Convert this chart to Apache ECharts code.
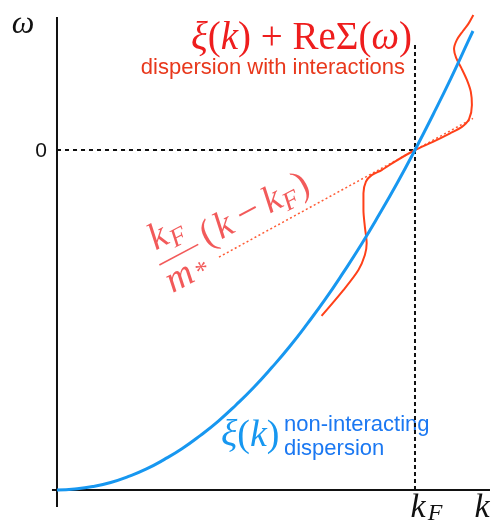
<!DOCTYPE html>
<html><head><meta charset="utf-8">
<script src="https://cdn.jsdelivr.net/npm/echarts@6/dist/echarts.min.js"></script>
<style>html,body{margin:0;padding:0;background:#fff}#c{width:494px;height:523px}</style>
</head><body><div id="c"></div>
<script>
// Non-interacting dispersion xi(k) (k in units of kF, omega in units of eF)
const blueK = [0, 0.05, 0.1, 0.15, 0.2, 0.25, 0.3, 0.35, 0.4, 0.45, 0.5, 0.55, 0.6, 0.65, 0.7, 0.75, 0.8, 0.85, 0.9, 0.95, 1.0, 1.05, 1.1, 1.15, 1.162];
const blueW = [-1, -0.997, -0.99, -0.978, -0.96, -0.938, -0.91, -0.878, -0.84, -0.798, -0.75, -0.698, -0.64, -0.578, -0.51, -0.438, -0.36, -0.278, -0.19, -0.098, 0, 0.103, 0.21, 0.323, 0.35];
// Interacting dispersion xi(k)+ReSigma(omega)
const redK = [0.739, 0.800, 0.842, 0.860, 0.865, 0.860, 0.856, 0.856, 0.863, 0.879, 0.907, 0.944, 1.000, 1.050, 1.098, 1.131, 1.151, 1.159, 1.156, 1.145, 1.130, 1.115, 1.109, 1.117, 1.134, 1.149, 1.163];
const redW = [-0.488, -0.412, -0.353, -0.309, -0.274, -0.226, -0.176, -0.127, -0.093, -0.074, -0.059, -0.034, 0, 0.024, 0.049, 0.068, 0.091, 0.132, 0.171, 0.206, 0.240, 0.271, 0.297, 0.324, 0.350, 0.371, 0.397];
// kF/m* (k-kF) renormalized slope line
const slopeK = [0.4525, 1.162];
const slopeW = [-0.315, 0.093];
// reference lines
const zeroLineK = [0, 1];
const zeroLineW = [0, 0];
const kFLineK = [1, 1];
const kFLineW = [-1, 0.309];
// axes
const xAxisK = [-0.014, 1.2095];
const xAxisW = [-1, -1];
const yAxisK = [0, 0];
const yAxisW = [-1.05, 0.391];

const pairs = (a, b) => a.map((v, i) => [v, b[i]]);
const SERIF = '"Liberation Serif", "DejaVu Serif", serif';
const SANS = '"Liberation Sans", Arial, sans-serif';
const RED_T = '#ee1d1d', RED_S = '#e8381c', RED_C = '#ff4019', RED_F = '#f25a5a';
const BLUE_C = '#1797f0', BLUE_T = '#1b78f2';

const chart = echarts.init(document.getElementById('c'));
function lineSeries(data, color, width, type, smooth, z) {
  return { type: 'line', data, showSymbol: false, smooth, silent: true, z: z || 2, clip: false,
    lineStyle: { color, width, type, cap: 'butt' } };
}
function txt(x, y, text, font, fill, align, valign) {
  return { type: 'text', x, y, silent: true,
    style: { text, font, fill, textAlign: align || 'center', textVerticalAlign: valign || 'middle' } };
}
function rich(x, y, text, size, fill, align) {
  return { type: 'text', x, y, silent: true, style: { text, fill, textAlign: align, textVerticalAlign: 'middle',
    rich: { i: { fontFamily: SERIF, fontStyle: 'italic', fontSize: size, fill },
            n: { fontFamily: SERIF, fontSize: size, fill } } } };
}
const F = (s, st) => (st ? st + ' ' : '') + s + 'px ' + SERIF;

chart.setOption({
  animation: false,
  grid: { left: 0, right: 0, top: 0, bottom: 0 },
  xAxis: { type: 'value', min: -0.1592, max: 1.2207, show: false },
  yAxis: { type: 'value', min: -1.0971, max: 0.4412, show: false },
  series: [
    lineSeries(pairs(xAxisK, xAxisW), '#111', 2, 'solid', false),
    lineSeries(pairs(yAxisK, yAxisW), '#111', 2, 'solid', false),
    lineSeries(pairs(zeroLineK, zeroLineW), '#111', 2, [4, 4], false),
    lineSeries(pairs(kFLineK, kFLineW), '#111', 2, [4, 3], false),
    lineSeries(pairs(slopeK, slopeW), '#ff5a33', 1.5, [2, 2.5], false),
    lineSeries(pairs(redK, redW), RED_C, 2, 'solid', 0.3, 3),
    lineSeries(pairs(blueK, blueW), BLUE_C, 3, 'solid', true, 4)
  ],
  graphic: [
    txt(23, 25, '\u03c9', F(32, 'italic'), '#111'),
    txt(41, 151, '0', '21px ' + SANS, '#111'),
    rich(412, 39, '{i|\u03be}{n|(}{i|k}{n|) + Re\u03a3(}{i|\u03c9}{n|)}', 39, RED_T, 'right'),
    txt(405, 68, 'dispersion with interactions', '22px ' + SANS, RED_S, 'right'),
    rich(221, 436, '{i|\u03be}{n|(}{i|k}{n|)}', 38, BLUE_C, 'left'),
    txt(284, 425, 'non-interacting', '22px ' + SANS, BLUE_T, 'left'),
    txt(284, 449, 'dispersion', '22px ' + SANS, BLUE_T, 'left'),
    txt(418, 508, 'k', F(34, 'italic'), '#111'),
    txt(435, 514, 'F', F(24, 'italic'), '#111'),
    txt(482, 508, 'k', F(34, 'italic'), '#111'),
    { type: 'group', x: 178.8, y: 254.7, rotation: 28 * Math.PI / 180, silent: true, children: [
      { type: 'line', shape: { x1: -22, y1: 0, x2: 22, y2: 0 }, style: { stroke: RED_F, lineWidth: 1.6 } },
      txt(-10, -24.6, 'k', F(38, 'italic'), RED_F),
      txt(8, -14.8, 'F', F(26, 'italic'), RED_F),
      txt(-10, 21, 'm', F(38, 'italic'), RED_F),
      txt(14, 26.5, '*', F(26), RED_F),
      txt(35, -3.5, '(', F(38), RED_F),
      txt(53, -3.5, 'k', F(38, 'italic'), RED_F),
      txt(81, -3.5, '\u2212', F(40), RED_F),
      txt(108, -3.5, 'k', F(38, 'italic'), RED_F),
      txt(124.5, 6, 'F', F(26, 'italic'), RED_F),
      txt(141, -3.5, ')', F(38), RED_F)
    ] }
  ]
});
</script></body></html>
